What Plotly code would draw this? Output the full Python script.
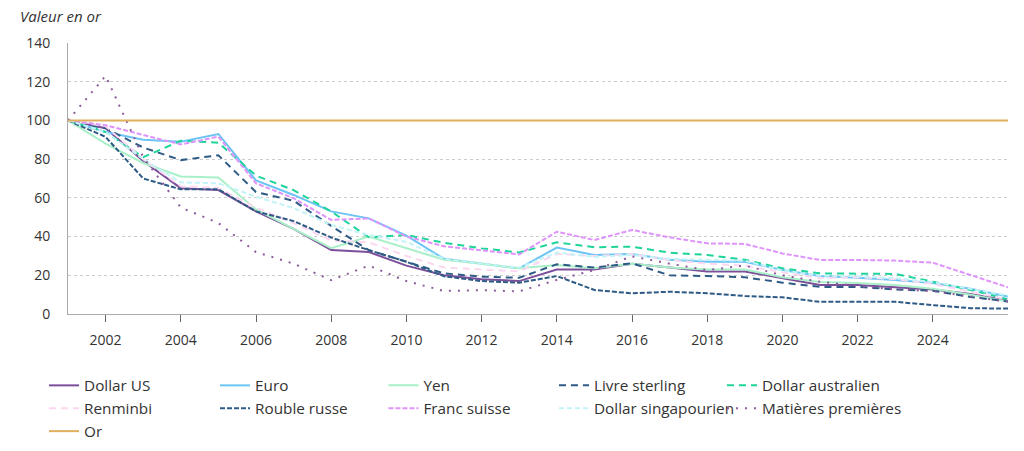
import plotly.graph_objects as go

years = list(range(2001, 2027))

dollar_us = [100, 96, 79, 65, 64, 53, 44, 33, 32, 25, 20, 18, 17, 23, 23, 26, 24, 22, 22, 18.5, 15, 15, 14, 12.7, 10.3, 7]
euro = [100, 94, 90, 89, 93, 69, 61.5, 53, 49.4, 40.5, 28.5, 26, 23.6, 34.3, 30.5, 31, 28, 27, 27, 22.7, 19.6, 18.7, 17.6, 16, 13, 9]
yen = [100, 88, 78, 71, 70.5, 54, 44, 34, 40, 34, 28, 26, 23.6, 25.3, 23.6, 25.9, 24, 23, 23, 19, 16.5, 16, 15, 13, 10, 6.5]
livre_sterling = [100, 96, 86, 79.5, 82, 63, 58.5, 45.5, 33, 27, 21, 19.3, 18.7, 25.7, 24, 26.2, 20, 19.6, 19, 16.2, 14, 14, 12.7, 12, 8.8, 6.5]
dollar_australien = [100, 94, 81, 89.5, 88.5, 71.5, 64, 53, 39.6, 40.8, 36.8, 33.9, 31.8, 37, 34.5, 34.8, 31.7, 30.5, 28, 23.6, 21, 20.8, 20.7, 16.7, 12.4, 7.6]
renminbi = [100, 97, 80, 66, 65, 55, 47, 38, 37, 30, 24, 23, 22, 31, 30, 31, 28, 26, 25, 21.5, 18.5, 19, 18, 15.5, 11.5, 7.5]
rouble_russe = [100, 91.5, 70, 64.4, 64.4, 53, 48, 39.5, 33, 27, 19.5, 17, 16.2, 19.6, 12.4, 10.7, 11.5, 10.7, 9.3, 8.6, 6.3, 6.3, 6.3, 4.6, 3, 2.8]
franc_suisse = [100, 97.5, 92.5, 87.6, 91.6, 67.5, 59.8, 48.6, 49.4, 40, 35, 33, 30.8, 42.5, 38.2, 43.4, 39.6, 36.5, 36.2, 31.3, 27.9, 27.9, 27.6, 26.5, 20, 13.8]
dollar_singapourien = [100, 94, 80, 68, 67.5, 60.6, 54.7, 46, 40.8, 37.3, 28.5, 26, 24, 31.7, 29.5, 30.5, 28.5, 28, 27.5, 22.5, 19.8, 19.5, 18.5, 16.5, 13, 9.5]
matieres_premieres = [100, 123, 81, 55, 47, 32, 26, 17.5, 25, 17, 11.9, 12.3, 11.7, 17.6, 22.7, 29.8, 26, 22.7, 25, 20, 16.7, 14.5, 12.7, 11.9, 9, 6.4]
gold = [100] * len(years)

x_ticks = list(range(2002, 2026, 2))
y_ticks = [0, 20, 40, 60, 80, 100, 120, 140]

# name, values, colour, dash, legend column
series = [
    ("Dollar US", dollar_us, "#7d4e9a", "solid", "legend"),
    ("Euro", euro, "#6cc4f5", "solid", "legend2"),
    ("Yen", yen, "#a9f0c9", "solid", "legend3"),
    ("Livre sterling", livre_sterling, "#2e5b86", "7px,5px", "legend4"),
    ("Dollar australien", dollar_australien, "#1ed49b", "7px,5px", "legend5"),
    ("Renminbi", renminbi, "#fcd7f0", "7px,5px", "legend"),
    ("Rouble russe", rouble_russe, "#2e5b86", "5px,2px", "legend2"),
    ("Franc suisse", franc_suisse, "#df94fb", "5px,2px", "legend3"),
    ("Dollar singapourien", dollar_singapourien, "#c2f3f7", "5px,3px", "legend4"),
    ("Matières premières", matieres_premieres, "#8c5a9c", "2px,7px", "legend5"),
    ("Or", gold, "#e0b05d", "solid", "legend"),
]

fig = go.Figure()
for name, vals, color, dash, leg in series:
    fig.add_trace(go.Scatter(
        x=years, y=vals, name=name, mode="lines", legend=leg,
        legendgroup=name,
        line=dict(color=color, width=2, dash=dash),
    ))

legend_cols = [-0.0255, 0.1564, 0.3356, 0.5170, 0.6957]


def legend_style(xpos):
    return dict(
        orientation="v", xref="paper", yref="container",
        x=xpos, y=0.182, xanchor="left", yanchor="top",
        itemwidth=30, font=dict(size=15.3, color="#333333"),
        tracegroupgap=1.5, traceorder="normal", bgcolor="rgba(0,0,0,0)",
    )


fig.update_layout(
    width=1024, height=451,
    margin=dict(l=68, r=16, t=43, b=137),
    paper_bgcolor="white", plot_bgcolor="white",
    font=dict(family="Open Sans", size=14, color="#333333"),
    showlegend=True,
    legend=legend_style(legend_cols[0]),
    legend2=legend_style(legend_cols[1]),
    legend3=legend_style(legend_cols[2]),
    legend4=legend_style(legend_cols[3]),
    legend5=legend_style(legend_cols[4]),
    xaxis=dict(
        range=[2001, 2026], tickmode="array", tickvals=x_ticks,
        ticktext=[str(t) for t in x_ticks],
        showgrid=False, zeroline=False, showline=True, linecolor="#aaaaaa",
        linewidth=1, ticks="outside", ticklen=7, tickcolor="#666666",
        tickfont=dict(size=14), ticklabelstandoff=6,
    ),
    yaxis=dict(
        range=[0, 140], tickmode="array", tickvals=y_ticks,
        showgrid=True, gridcolor="#cccccc", griddash="dot", gridwidth=1,
        zeroline=False, showline=True, linecolor="#aaaaaa", linewidth=1,
        ticks="", tickfont=dict(size=14), ticklabelstandoff=14,
    ),
    annotations=[dict(
        text="<i>Valeur en or</i>", xref="paper", yref="paper",
        x=-0.053, y=1.1, xanchor="left", yanchor="middle", showarrow=False,
        font=dict(size=15, color="#333333"),
    )],
)

fig.write_html(
    "out.html",
    config={"displayModeBar": False},
    post_script="document.body.style.margin='0px';document.body.style.overflow='hidden';",
)
